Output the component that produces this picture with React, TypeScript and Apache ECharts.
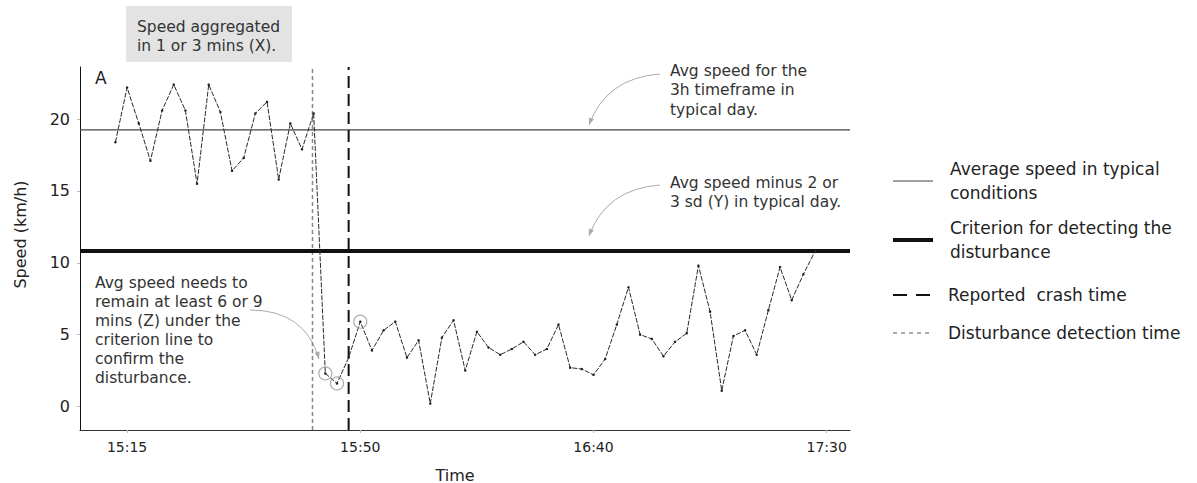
import React, { useEffect, useRef } from "react";
import * as echarts from "echarts";

// Speed readings (km/h), one every aggregation step, index 0..60
const speed = [
  18.4, 22.2, 19.7, 17.1, 20.6, 22.4, 20.6, 15.5, 22.4, 20.5,
  16.4, 17.3, 20.4, 21.2, 15.8, 19.7, 17.9, 20.4, 2.3, 1.6,
  3.4, 5.9, 3.9, 5.3, 5.9, 3.4, 4.6, 0.2, 4.8, 6.0,
  2.5, 5.2, 4.1, 3.6, 4.0, 4.5, 3.6, 4.0, 5.7, 2.7,
  2.6, 2.2, 3.3, 5.7, 8.3, 5.0, 4.7, 3.5, 4.5, 5.1,
  9.8, 6.6, 1.1, 4.9, 5.3, 3.6, 6.7, 9.7, 7.4, 9.2,
  10.8,
];
const circledIdx = [18, 19, 21];
const typicalAvg = 19.25;
const criterion = 10.82;
const crashIdx = 20;
const detectionIdx = 16.9;

const xTickPos = [1, 21, 41, 61];
const xTickLabels = ["15:15", "15:50", "16:40", "17:30"];
const yTickValues = [0, 5, 10, 15, 20];

const X_MIN = -3.04;
const X_MAX = 63;
const Y_MIN = -1.64;
const Y_MAX = 23.63;

const legendLabels = [
  "Average speed in typical\nconditions",
  "Criterion for detecting the\ndisturbance",
  "Reported  crash time",
  "Disturbance detection time",
];

const FONT = "DejaVu Sans";
const TXT = "#333";
const ARROW = "#aaaaaa";

function arrow(x1: number, y1: number, cx: number, cy: number, x2: number, y2: number) {
  const dx = x2 - cx;
  const dy = y2 - cy;
  const len = Math.sqrt(dx * dx + dy * dy) || 1;
  const ux = dx / len;
  const uy = dy / len;
  const L = 7;
  const W = 2.6;
  const bx = x2 - ux * L;
  const by = y2 - uy * L;
  return [
    {
      type: "bezierCurve",
      shape: { x1, y1, x2, y2, cpx1: cx, cpy1: cy },
      style: { stroke: ARROW, lineWidth: 1, fill: "none" },
      silent: true,
    },
    {
      type: "polygon",
      shape: {
        points: [
          [x2, y2],
          [bx - uy * W, by + ux * W],
          [bx + uy * W, by - ux * W],
        ],
      },
      style: { fill: ARROW },
      silent: true,
    },
  ];
}

function legendItem(
  y: number,
  textX: number,
  label: string,
  stroke: string,
  width: number,
  dash: number[] | null
) {
  return [
    {
      type: "line",
      shape: { x1: 893, y1: y, x2: 933, y2: y },
      style: { stroke, lineWidth: width, lineDash: dash || undefined },
      silent: true,
    },
    {
      type: "text",
      x: textX,
      y: y,
      style: {
        text: label,
        font: `17px "${FONT}"`,
        fill: "#222",
        lineHeight: 24,
        verticalAlign: "middle",
      },
    },
  ];
}

export default function App() {
  const ref = useRef<HTMLDivElement>(null);

  useEffect(() => {
    document.body.style.margin = "0";
    if (!ref.current) return;
    const chart = echarts.init(ref.current, null, { renderer: "svg" });

    const speedData = speed.map((v, i) => [i, v]);
    const circleData = circledIdx.map((i) => [i, speed[i]]);

    const option: any = {
      animation: false,
      backgroundColor: "#fff",
      textStyle: { fontFamily: FONT },
      grid: {
        left: 80,
        right: 347,
        top: 67,
        bottom: 53,
        containLabel: false,
        outerBoundsMode: "none",
      },
      xAxis: {
        type: "value",
        min: X_MIN,
        max: X_MAX,
        splitLine: { show: false },
        axisLine: { show: true, onZero: false, lineStyle: { color: "#333", width: 1 } },
        axisTick: {
          show: true,
          customValues: xTickPos,
          length: 3,
          lineStyle: { color: "#bbb" },
        },
        axisLabel: {
          customValues: xTickPos,
          formatter: (v: number) => xTickLabels[xTickPos.indexOf(v)] ?? "",
          fontSize: 14,
          color: "#222",
          margin: 10,
          fontFamily: FONT,
        },
        name: "Time",
        nameLocation: "middle",
        nameGap: 37,
        nameTextStyle: { fontSize: 16, color: "#222", fontFamily: FONT, padding: [0, 20, 0, 0] },
      },
      yAxis: {
        type: "value",
        min: Y_MIN,
        max: Y_MAX,
        splitLine: { show: false },
        axisLine: { show: true, onZero: false, lineStyle: { color: "#111", width: 1 } },
        axisTick: {
          show: true,
          customValues: yTickValues,
          length: 3,
          lineStyle: { color: "#bbb" },
        },
        axisLabel: {
          customValues: yTickValues,
          fontSize: 16,
          color: "#222",
          margin: 10,
          fontFamily: FONT,
        },
        name: "Speed (km/h)",
        nameLocation: "middle",
        nameGap: 52,
        nameTextStyle: { fontSize: 16, color: "#222", fontFamily: FONT, padding: [0, 0, 0, 28] },
      },
      series: [
        {
          name: "Average speed in typical conditions",
          type: "line",
          data: [[X_MIN, typicalAvg], [X_MAX, typicalAvg]],
          symbol: "none",
          lineStyle: { color: "#444", width: 1.2 },
          z: 2,
          silent: true,
        },
        {
          name: "Criterion for detecting the disturbance",
          type: "line",
          data: [[X_MIN, criterion], [X_MAX, criterion]],
          symbol: "none",
          lineStyle: { color: "#111", width: 4 },
          z: 4,
          silent: true,
        },
        {
          name: "Reported crash time",
          type: "line",
          data: [[crashIdx, Y_MIN], [crashIdx, Y_MAX]],
          symbol: "none",
          lineStyle: { color: "#111", width: 2, type: [12, 6] },
          z: 3,
          silent: true,
        },
        {
          name: "Disturbance detection time",
          type: "line",
          data: [[detectionIdx, Y_MIN], [detectionIdx, Y_MAX]],
          symbol: "none",
          lineStyle: { color: "#888", width: 1.5, type: [4, 3] },
          z: 3,
          silent: true,
        },
        {
          name: "Speed",
          type: "line",
          data: speedData,
          symbol: "circle",
          symbolSize: 2.5,
          itemStyle: { color: "#222" },
          lineStyle: { color: "#2a2a2a", width: 1, type: [5, 1.5] },
          z: 5,
          silent: true,
        },
        {
          name: "Circled",
          type: "scatter",
          data: circleData,
          symbol: "circle",
          symbolSize: 13,
          itemStyle: { color: "rgba(0,0,0,0)", borderColor: "#999", borderWidth: 1.2 },
          z: 6,
          silent: true,
        },
      ],
      graphic: [
        {
          type: "rect",
          shape: { x: 126, y: 6, width: 166, height: 56 },
          style: { fill: "#e3e3e3" },
          silent: true,
        },
        {
          type: "text",
          x: 137,
          y: 17,
          style: {
            text: "Speed aggregated\nin 1 or 3 mins (X).",
            font: `15.5px "${FONT}"`,
            fill: TXT,
            lineHeight: 19,
          },
        },
        {
          type: "text",
          x: 95,
          y: 69,
          style: { text: "A", font: `17px "${FONT}"`, fill: "#222" },
        },
        {
          type: "text",
          x: 670,
          y: 61,
          style: {
            text: "Avg speed for the\n3h timeframe in\ntypical day.",
            font: `15.5px "${FONT}"`,
            fill: TXT,
            lineHeight: 19.5,
          },
        },
        {
          type: "text",
          x: 670,
          y: 173,
          style: {
            text: "Avg speed minus 2 or\n3 sd (Y) in typical day.",
            font: `15.5px "${FONT}"`,
            fill: TXT,
            lineHeight: 19.5,
          },
        },
        {
          type: "text",
          x: 95,
          y: 273,
          style: {
            text:
              "Avg speed needs to\nremain at least 6 or 9\nmins (Z) under the\ncriterion line to\nconfirm the\ndisturbance.",
            font: `15.5px "${FONT}"`,
            fill: TXT,
            lineHeight: 19,
          },
        },
        ...arrow(660, 74, 606, 78, 589, 125),
        ...arrow(660, 185, 606, 189, 589, 236),
        ...arrow(250, 310, 305, 310, 319, 359),
        ...legendItem(181, 950, legendLabels[0], "#444", 1.2, null),
        ...legendItem(240, 950, legendLabels[1], "#111", 4, null),
        ...legendItem(295, 948, legendLabels[2], "#111", 2, [14, 9]),
        ...legendItem(333, 948, legendLabels[3], "#555", 1, [4, 4]),
      ],
    };

    chart.setOption(option);
    return () => chart.dispose();
  }, []);

  return <div ref={ref} style={{ width: 1197, height: 483 }} />;
}
